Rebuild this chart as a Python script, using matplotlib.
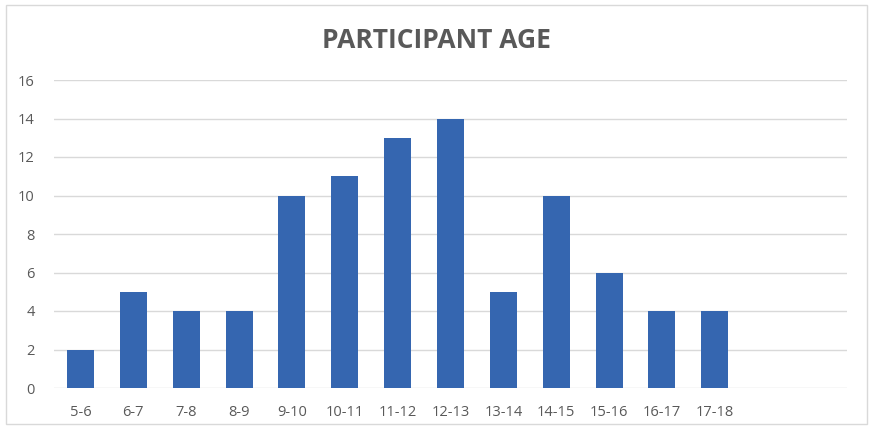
import matplotlib
matplotlib.use("Agg")
import matplotlib.pyplot as plt
from matplotlib.patches import Rectangle

# Age groups (two trailing empty slots on the category axis)
categories = ["5-6", "6-7", "7-8", "8-9", "9-10", "10-11", "11-12", "12-13",
              "13-14", "14-15", "15-16", "16-17", "17-18", "", ""]
counts = [2, 5, 4, 4, 10, 11, 13, 14, 5, 10, 6, 4, 4, None, None]
y_ticks = [0, 2, 4, 6, 8, 10, 12, 14, 16]

BAR = "#3566B0"
TXT = "#595959"
GRID = "#D9D9D9"

fig = plt.figure(figsize=(8.72, 4.29), dpi=100)
fig.patch.set_facecolor("white")
fig.add_artist(Rectangle((6 / 872, 5 / 429), 861 / 872, 419 / 429,
                         transform=fig.transFigure, fill=False,
                         edgecolor="#D9D9D9", linewidth=1))

ax = fig.add_axes([54 / 872, 1 - 388 / 429, 793 / 872, 308 / 429])
xs = list(range(len(categories)))
vals = [v if v is not None else 0 for v in counts]
ax.bar(xs, vals, width=0.51, color=BAR, zorder=3)

ax.set_xlim(-0.5, len(categories) - 0.5)
ax.set_ylim(0, 16)
ax.set_yticks(y_ticks)
ax.set_yticklabels([str(t) for t in y_ticks])
ax.set_xticks(xs)
ax.set_xticklabels(categories)
ax.yaxis.grid(True, color=GRID, linewidth=1, zorder=0)
ax.set_axisbelow(True)
for s in ax.spines.values():
    s.set_visible(False)
ax.tick_params(axis="both", length=0, colors=TXT, labelsize=10.5)
ax.tick_params(axis="y", pad=14)
ax.tick_params(axis="x", pad=12)
for lab in ax.get_xticklabels() + ax.get_yticklabels():
    lab.set_family(["Open Sans", "DejaVu Sans"])

fig.text(0.5, 1 - 41 / 429, "PARTICIPANT AGE", ha="center", va="center",
         fontsize=19, fontweight="bold", color=TXT,
         family=["Liberation Sans Narrow", "Open Sans", "DejaVu Sans"])

fig.savefig("out.png", dpi=100)
